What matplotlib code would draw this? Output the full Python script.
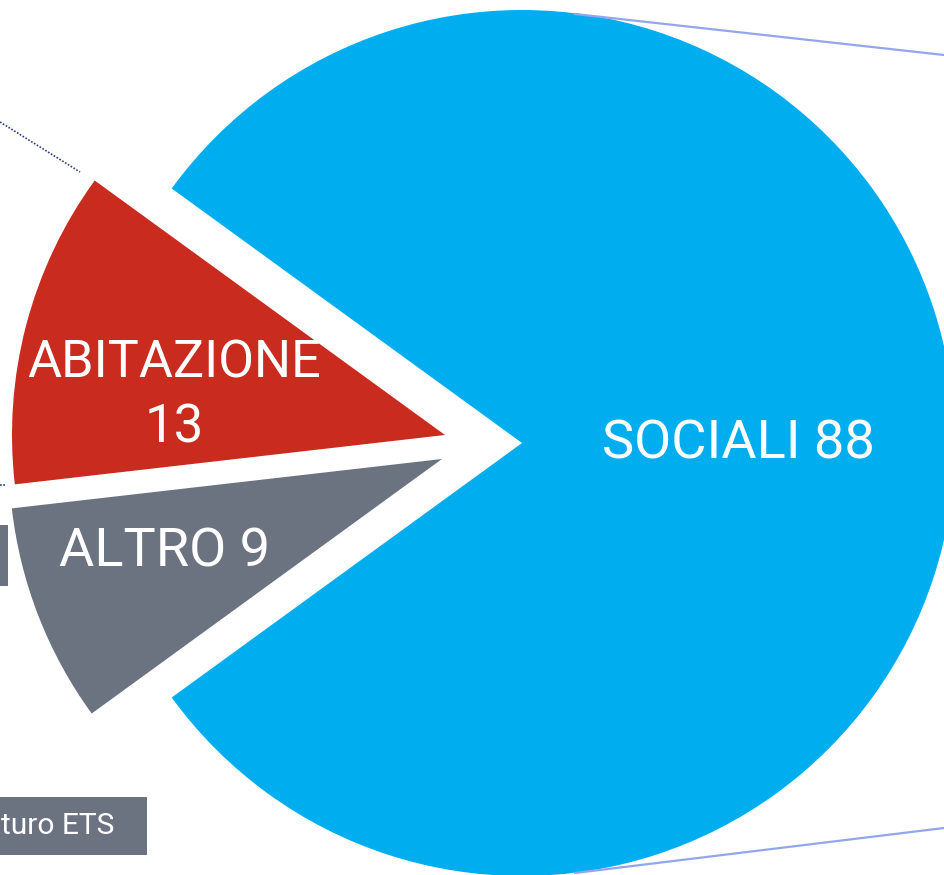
import numpy as np
import matplotlib
matplotlib.use("Agg")
import matplotlib.pyplot as plt
from matplotlib.patches import Rectangle

# dati
categorie = ["ABITAZIONE", "ALTRO", "SOCIALI"]
valori = [13, 9, 88]
colori = ["#C92B1E", "#6B7280", "#00AEEF"]

W, H = 944, 875
cx, cy, R = 522, 443, 433  # centro e raggio in pixel

plt.rcParams['font.family'] = ['Roboto', 'DejaVu Sans']

fig = plt.figure(figsize=(W / 100, H / 100), dpi=100)
ax = fig.add_axes([0, 0, 1, 1])

wedges, _ = ax.pie(valori, colors=colori, startangle=144, radius=1,
                   wedgeprops=dict(linewidth=0))

# spostamento delle fette piccole (in unita' di raggio)
spost = [(-77 / R, 8 / R), (-80 / R, -16 / R), (0, 0)]
for w, (dx, dy) in zip(wedges, spost):
    w.set_center((dx, dy))

ax.set_xlim(-cx / R, (W - cx) / R)
ax.set_ylim(-(H - cy) / R, cy / R)
ax.set_aspect("equal")
ax.axis("off")

def px(x, y):
    return (x - cx) / R, (cy - y) / R

# etichette
ax.text(*px(738, 444), f"{categorie[2]} {valori[2]}", color="white",
        fontsize=39, ha="center", va="center")
ax.text(*px(174, 364), categorie[0], color="white", fontsize=37.5,
        ha="center", va="center")
ax.text(*px(174, 428), str(valori[0]), color="white", fontsize=38,
        ha="center", va="center")
ax.text(*px(165, 552), f"{categorie[1]} {valori[1]}", color="white",
        fontsize=39, ha="center", va="center")

# decorazioni in pixel
deco = fig.add_axes([0, 0, 1, 1], facecolor="none")
deco.set_xlim(0, W)
deco.set_ylim(H, 0)
deco.axis("off")

deco.plot([575, 944], [14, 55], color="#93A6EC", lw=1.6)
deco.plot([575, 944], [873, 828], color="#93A6EC", lw=1.6)
deco.plot([0, 80], [122, 172], color="#2B3F7E", lw=1.2, ls=(0, (1, 1)))
deco.plot([0, 6], [485, 485], color="#2B3F7E", lw=1.2, ls=(0, (1, 1)))

deco.add_patch(Rectangle((0, 525), 8, 61, color="#6B7280", lw=0))
deco.add_patch(Rectangle((0, 797), 147, 58, color="#6B7280", lw=0))
deco.text(1, 826, "turo ETS", color="white", fontsize=21.5,
          ha="left", va="center")

fig.savefig("out.png", dpi=100)
